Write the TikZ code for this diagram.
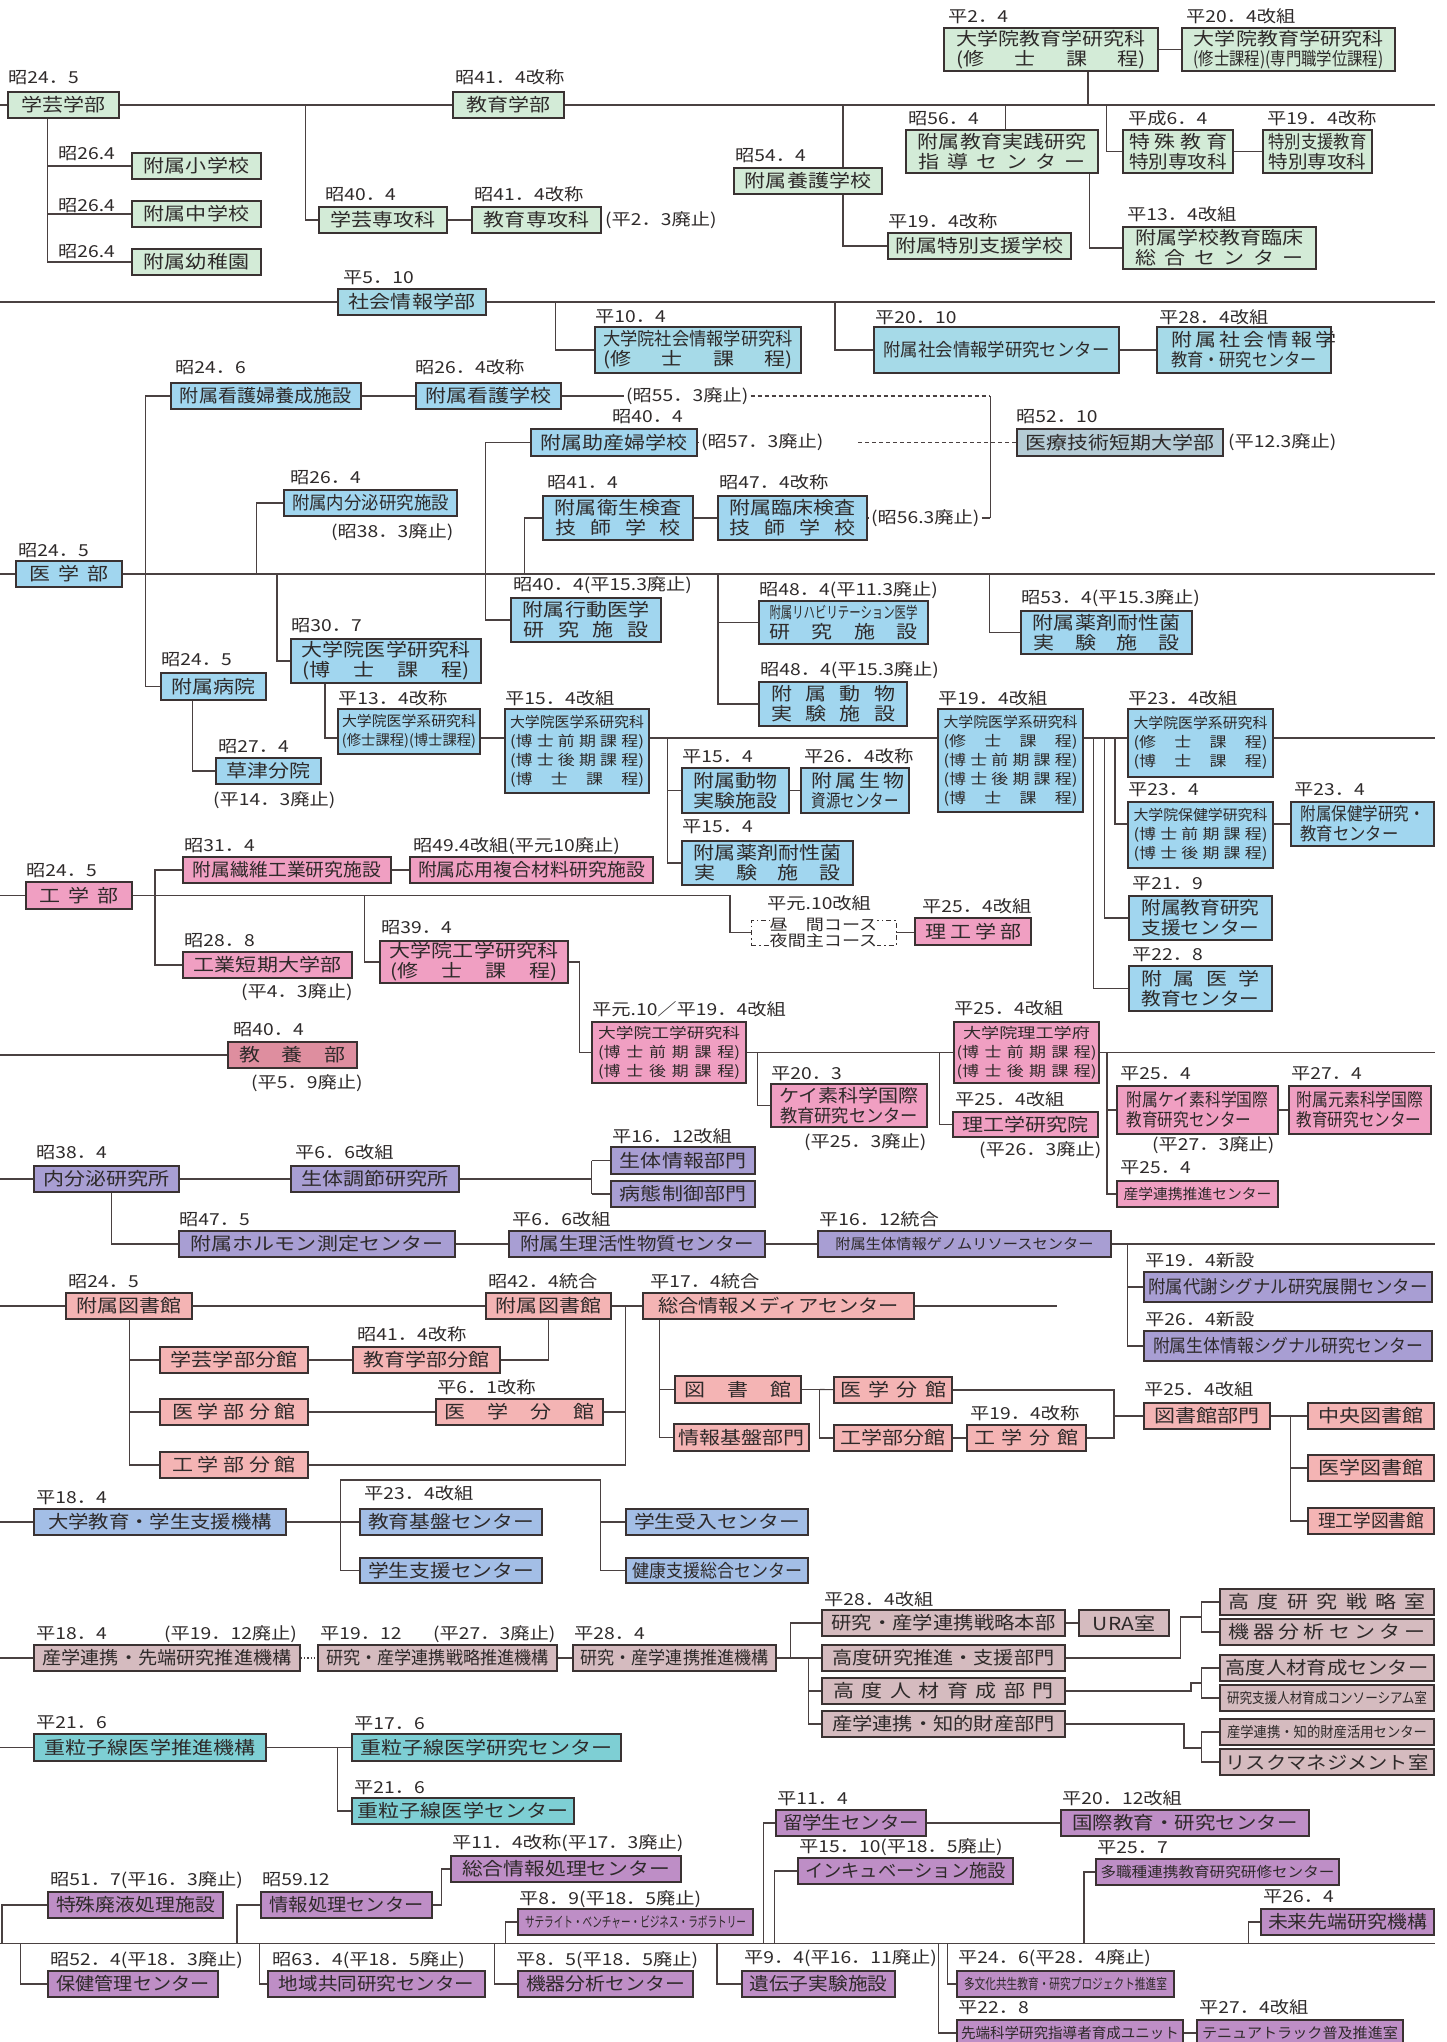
\documentclass[tikz,border=0pt]{standalone}
\usepackage{fontspec}
\usepackage{graphicx}
\setmainfont{Noto Sans CJK JP}[FakeStretch=1.167]
\usetikzlibrary{fit,backgrounds}

\definecolor{lc}{HTML}{4A4141}
\definecolor{bc}{HTML}{3A3232}
\definecolor{tc}{HTML}{2E2A2A}
\definecolor{cGr}{HTML}{D3EBD7}
\definecolor{cSo}{HTML}{A6DAE8}
\definecolor{cMe}{HTML}{A1D6EF}
\definecolor{cIr}{HTML}{B5CCD6}
\definecolor{cEn}{HTML}{F09FC2}
\definecolor{cKy}{HTML}{DE8E9F}
\definecolor{cVi}{HTML}{A89ED3}
\definecolor{cLi}{HTML}{F4B4B4}
\definecolor{cSt}{HTML}{A3BEE6}
\definecolor{cIn}{HTML}{D5BBBF}
\definecolor{cTe}{HTML}{7ECFD4}
\definecolor{cPu}{HTML}{BE8EC6}

% spread a line to a given width / squeeze a line to a given width
\newcommand\Sx[2]{\makebox[#1pt][s]{#2}}
\newcommand\Fx[2]{\resizebox{#1pt}{\height}{#2}}
\newcommand\Fs[2]{\resizebox{#1pt}{\height}{\fontsize{16}{16}\selectfont #2}}
% stacked lines, centred or flush left
\newcommand\ML[1]{{\let\\\cr\vbox{\lineskiplimit=-\maxdimen\halign{\hfil##\hfil\cr#1\crcr}}}}
\newcommand\MLl[1]{{\let\\\cr\vbox{\lineskiplimit=-\maxdimen\halign{##\hfil\cr#1\crcr}}}}
% box: name, styles, x1, y1, x2, y2, text (frame fitted to the corners, label centred in it)
\newcommand\Bx[7]{\node[bx,#2,fit={(#3,#4)(#5,#6)}] (#1) {};
  \node[bxt,#2] (#1-t) at (#1.center) {#7};}
% date label: name, x, baseline y, text
\newcommand\Dt[4]{\node[datelbl] (#1) at (#2,#3) {#4};}

\tikzset{
  bx/.style={draw=bc,line width=1.1pt,inner sep=0pt},
  bxt/.style={inner sep=0pt,text=tc,anchor=center,font=\fontsize{18}{20}\selectfont},
  smallf/.style={font=\fontsize{14.5}{19}\selectfont},
  datelbl/.style={anchor=base west,inner sep=0pt,text=tc,font=\fontsize{16.5}{18}\selectfont},
  inltxt/.style={anchor=west,inner sep=2pt,text=tc,font=\fontsize{16.5}{18}\selectfont},
  conn/.style={draw=lc,line width=1.1pt},
  dconn/.style={conn,dash pattern=on 4pt off 3pt},
  fGr/.style={fill=cGr}, fSo/.style={fill=cSo}, fMe/.style={fill=cMe},
  fIr/.style={fill=cIr}, fEn/.style={fill=cEn}, fKy/.style={fill=cKy},
  fVi/.style={fill=cVi}, fLi/.style={fill=cLi}, fSt/.style={fill=cSt},
  fIn/.style={fill=cIn}, fTe/.style={fill=cTe}, fPu/.style={fill=cPu}
}

\begin{document}
\begin{tikzpicture}[x=1pt,y=-1pt]
\useasboundingbox (0,0) rectangle (1446,2042);

% ================= education =================
\Bx{gakugei}{fGr}{8}{92}{119}{118}{学芸学部}
\Bx{kyoiku}{fGr}{453}{92}{564}{118}{教育学部}
\Bx{fshogaku}{fGr}{132}{153}{261}{179}{附属小学校}
\Bx{fchugaku}{fGr}{132}{201}{261}{227}{附属中学校}
\Bx{fyochien}{fGr}{132}{249}{261}{275}{附属幼稚園}
\Bx{gsenkou}{fGr}{319}{207}{447}{233}{学芸専攻科}
\Bx{ksenkou}{fGr}{472}{207}{601}{233}{教育専攻科}
\Bx{gradedu}{fGr}{944}{28}{1158}{71}{\ML{大学院教育学研究科\\\Sx{190}{(修 士 課 程)}}}
\Bx{gradedu2}{fGr}{1182}{28}{1395}{71}{\ML{大学院教育学研究科\\\Fx{190}{(修士課程)(専門職学位課程)}}}
\Bx{fyogo}{fGr}{734}{168}{882}{194}{附属養護学校}
\Bx{ftokushi}{fGr}{888}{233}{1071}{259}{附属特別支援学校}
\Bx{fjissen}{fGr}{906}{130}{1098}{173}{\ML{附属教育実践研究\\\Sx{168}{指 導 セ ン タ ー}}}
\Bx{frinsho}{fGr}{1123}{227}{1316}{269}{\ML{附属学校教育臨床\\\Sx{168}{総 合 セ ン タ ー}}}
\Bx{tokushu}{fGr}{1123}{130}{1233}{173}{\ML{\Sx{98}{特 殊 教 育}\\\Fx{98}{特別専攻科}}}
\Bx{tokubetsu}{fGr}{1263}{130}{1372}{173}{\ML{\Fx{98}{特別支援教育}\\\Fx{98}{特別専攻科}}}

\Dt{t1}{8}{83}{昭24．5}
\Dt{t2}{455}{83}{昭41．4改称}
\Dt{t3}{58}{159}{昭26.4}
\Dt{t4}{58}{211}{昭26.4}
\Dt{t5}{58}{257}{昭26.4}
\Dt{t6}{325}{200}{昭40．4}
\Dt{t7}{474}{200}{昭41．4改称}
\node[inltxt] (t8) at (603,220) {(平2．3廃止)};
\Dt{t9}{948}{23}{平2．4}
\Dt{t10}{1186}{23}{平20．4改組}
\Dt{t11}{735}{161}{昭54．4}
\Dt{t12}{888}{227}{平19．4改称}
\Dt{t13}{908}{124}{昭56．4}
\Dt{t14}{1127}{220}{平13．4改組}
\Dt{t15}{1128}{124}{平成6．4}
\Dt{t16}{1267}{124}{平19．4改称}

% ================= social information =================
\Bx{shakai}{fSo}{338}{289}{486}{315}{社会情報学部}
\Bx{gradshakai}{fSo}{595}{327}{801}{373}{\ML{\Fx{190}{大学院社会情報学研究科}\\\Sx{190}{(修 士 課 程)}}}
\Bx{fshakaiken}{fSo}{874}{327}{1119}{373}{\Fx{226}{附属社会情報学研究センター}}
\Bx{fshakaikyo}{fSo}{1157}{327}{1331}{373}{\ML{\Sx{146}{附 属 社 会 情 報 学}\\\Fx{146}{教育・研究センター}}}
\Dt{t17}{343}{283}{平5．10}
\Dt{t18}{595}{322}{平10．4}
\Dt{t19}{875}{323}{平20．10}
\Dt{t20}{1159}{323}{平28．4改組}

% ================= medicine =================
\Bx{igaku}{fMe}{16}{561}{122}{587}{\Sx{79}{医 学 部}}
\Bx{fkango1}{fMe}{171}{383}{361}{409}{\Fx{172}{附属看護婦養成施設}}
\Bx{fkango2}{fMe}{416}{383}{561}{409}{附属看護学校}
\Bx{fjosan}{fMe}{531}{429}{697}{456}{附属助産婦学校}
\Bx{iryo}{fIr}{1017}{429}{1223}{456}{医療技術短期大学部}
\Bx{fnaibunpi}{fMe}{284}{490}{457}{516}{\Fx{157}{附属内分泌研究施設}}
\Bx{feisei}{fMe}{543}{496}{693}{540}{\ML{附属衛生検査\\\Sx{126}{技 師 学 校}}}
\Bx{frinsho2}{fMe}{718}{496}{867}{540}{\ML{附属臨床検査\\\Sx{126}{技 師 学 校}}}
\Bx{gradmed}{fMe}{291}{639}{481}{683}{\ML{大学院医学研究科\\\Sx{168}{(博 士 課 程)}}}
\Bx{fkodo}{fMe}{511}{598}{661}{642}{\ML{附属行動医学\\\Sx{126}{研 究 施 設}}}
\Bx{freha}{fMe}{759}{601}{928}{644}{\ML{\Fs{148}{附属リハビリテーション医学}\\\Sx{148}{研 究 施 設}}}
\Bx{fyakuzai1}{fMe}{1021}{611}{1192}{654}{\ML{附属薬剤耐性菌\\\Sx{147}{実 験 施 設}}}
\Bx{fdobutsu1}{fMe}{759}{682}{907}{726}{\ML{\Sx{124}{附 属 動 物}\\\Sx{124}{実 験 施 設}}}
\Bx{fbyoin}{fMe}{161}{673}{266}{700}{附属病院}
\Bx{kusatsu}{fMe}{216}{758}{321}{784}{草津分院}
\Bx{gradmed2}{fMe,smallf}{338}{709}{480}{754}{\ML{\Fx{134}{大学院医学系研究科}\\\Fx{134}{(修士課程)(博士課程)}}}
\Bx{gradmed3}{fMe,smallf}{505}{709}{649}{793}{\ML{\Fx{134}{大学院医学系研究科}\\\Sx{134}{(博 士 前 期 課 程)}\\\Sx{134}{(博 士 後 期 課 程)}\\\Sx{134}{(博 士 課 程)}}}
\Bx{gradmed4}{fMe,smallf}{938}{709}{1083}{812}{\ML{\Fx{134}{大学院医学系研究科}\\\Sx{134}{(修 士 課 程)}\\\Sx{134}{(博 士 前 期 課 程)}\\\Sx{134}{(博 士 後 期 課 程)}\\\Sx{134}{(博 士 課 程)}}}
\Bx{gradmed5}{fMe,smallf}{1128}{709}{1273}{777}{\ML{\Fx{134}{大学院医学系研究科}\\\Sx{134}{(修 士 課 程)}\\\Sx{134}{(博 士 課 程)}}}
\Bx{gradhoken}{fMe,smallf}{1128}{802}{1273}{868}{\ML{\Fx{134}{大学院保健学研究科}\\\Sx{134}{(博 士 前 期 課 程)}\\\Sx{134}{(博 士 後 期 課 程)}}}
\Bx{fhoken}{fMe}{1291}{802}{1434}{846}{\MLl{\Fx{124}{附属保健学研究・}\\\Fx{98}{教育センター}}}
\Bx{fkyoikushien}{fMe}{1129}{896}{1272}{940}{\ML{\Fx{118}{附属教育研究}\\\Fx{118}{支援センター}}}
\Bx{figakukyo}{fMe}{1129}{966}{1272}{1011}{\ML{\Sx{118}{附 属 医 学}\\\Fx{118}{教育センター}}}
\Bx{fdobutsu2}{fMe}{682}{768}{789}{813}{\ML{附属動物\\実験施設}}
\Bx{fseibutsu}{fMe}{801}{768}{909}{813}{\ML{\Sx{87}{附 属 生 物}\\\Fx{87}{資源センター}}}
\Bx{fyakuzai2}{fMe}{682}{841}{853}{885}{\ML{附属薬剤耐性菌\\\Sx{147}{実 験 施 設}}}

\Dt{t21}{175}{373}{昭24．6}
\Dt{t22}{415}{373}{昭26．4改称}
\node[inltxt] (d55) at (624,396) {(昭55．3廃止)};
\Dt{t23}{612}{422}{昭40．4}
\node[inltxt] (d57) at (699,442.5) {(昭57．3廃止)};
\Dt{t24}{1016}{422}{昭52．10}
\node[inltxt] (t25) at (1226,442.5) {(平12.3廃止)};
\Dt{t26}{290}{483}{昭26．4}
\Dt{t27}{331}{537}{(昭38．3廃止)}
\Dt{t28}{547}{488}{昭41．4}
\Dt{t29}{719}{488}{昭47．4改称}
\node[inltxt] (d56) at (869,518) {(昭56.3廃止)};
\Dt{t30}{18}{556}{昭24．5}
\Dt{t31}{291}{631}{昭30．7}
\Dt{t32}{513}{590}{昭40．4(平15.3廃止)}
\Dt{t33}{759}{595}{昭48．4(平11.3廃止)}
\Dt{t34}{1021}{603}{昭53．4(平15.3廃止)}
\Dt{t35}{760}{675}{昭48．4(平15.3廃止)}
\Dt{t36}{161}{665}{昭24．5}
\Dt{t37}{218}{752}{昭27．4}
\Dt{t38}{213}{805}{(平14．3廃止)}
\Dt{t39}{338}{704}{平13．4改称}
\Dt{t40}{505}{704}{平15．4改組}
\Dt{t41}{938}{704}{平19．4改組}
\Dt{t42}{1128}{704}{平23．4改組}
\Dt{t43}{1128}{795}{平23．4}
\Dt{t44}{1294}{795}{平23．4}
\Dt{t45}{1132}{889}{平21．9}
\Dt{t46}{1132}{960}{平22．8}
\Dt{t47}{804}{762}{平26．4改称}
\Dt{t48}{682}{762}{平15．4}
\Dt{t49}{682}{832}{平15．4}

% ================= engineering =================
\Bx{kogaku}{fEn}{26}{882}{132}{909}{\Sx{79}{工 学 部}}
\Bx{fsenni}{fEn}{183}{857}{391}{883}{\Fx{188}{附属繊維工業研究施設}}
\Bx{foyo}{fEn}{410}{857}{653}{883}{\Fx{227}{附属応用複合材料研究施設}}
\Bx{kotan}{fEn}{183}{952}{352}{978}{工業短期大学部}
\Bx{gradeng}{fEn}{380}{941}{568}{983}{\ML{大学院工学研究科\\\Sx{168}{(修 士 課 程)}}}
\Bx{gradeng2}{fEn,smallf}{592}{1022}{746}{1083}{\ML{\Fx{142}{大学院工学研究科}\\\Sx{142}{(博 士 前 期 課 程)}\\\Sx{142}{(博 士 後 期 課 程)}}}
\node[draw=bc,line width=0.9pt,dash pattern=on 5pt off 3pt on 1.5pt off 3pt,inner sep=0pt,
  fit={(751,920)(896,945)}] (course) {};
\node[fill=white,inner sep=0pt,text=tc,font=\fontsize{15.5}{16}\selectfont]
  (coursetxt) at (course.center) {\ML{昼　間コース\\夜間主コース}};
\Bx{riko}{fEn}{915}{918}{1031}{945}{\Sx{96}{理 工 学 部}}
\Bx{kyoyo}{fKy}{228}{1042}{357}{1068}{\Sx{106}{教 養 部}}
\Bx{gradriko}{fEn,smallf}{954}{1022}{1099}{1083}{\ML{\Fx{127}{大学院理工学府}\\\Sx{140}{(博 士 前 期 課 程)}\\\Sx{140}{(博 士 後 期 課 程)}}}
\Bx{keiso}{fEn}{771}{1084}{927}{1127}{\ML{\Fx{140}{ケイ素科学国際}\\\Fx{138}{教育研究センター}}}
\Bx{rikoken}{fEn}{953}{1112}{1098}{1137}{理工学研究院}
\Bx{fkeiso}{fEn}{1117}{1086}{1278}{1134}{\MLl{\Fx{142}{附属ケイ素科学国際}\\\Fx{125}{教育研究センター}}}
\Bx{fgenso}{fEn}{1289}{1086}{1431}{1134}{\MLl{\Fx{127}{附属元素科学国際}\\\Fx{125}{教育研究センター}}}
\Bx{sangakusuishin}{fEn,smallf}{1117}{1181}{1278}{1207}{\Fx{148}{産学連携推進センター}}

\Dt{t50}{26}{876}{昭24．5}
\Dt{t51}{184}{851}{昭31．4}
\Dt{t52}{413}{851}{昭49.4改組(平元10廃止)}
\Dt{t53}{184}{946}{昭28．8}
\Dt{t54}{241}{997}{(平4．3廃止)}
\Dt{t55}{381}{933}{昭39．4}
\Dt{t56}{592}{1015}{平元.10／平19．4改組}
\Dt{t57}{767}{909}{平元.10改組}
\Dt{t58}{922}{912}{平25．4改組}
\Dt{t59}{954}{1014}{平25．4改組}
\Dt{t60}{233}{1035}{昭40．4}
\Dt{t61}{251}{1088}{(平5．9廃止)}
\Dt{t62}{771}{1079}{平20．3}
\Dt{t63}{804}{1147}{(平25．3廃止)}
\Dt{t64}{955}{1105}{平25．4改組}
\Dt{t65}{979}{1155}{(平26．3廃止)}
\Dt{t66}{1120}{1079}{平25．4}
\Dt{t67}{1152}{1150}{(平27．3廃止)}
\Dt{t68}{1291}{1079}{平27．4}
\Dt{t69}{1120}{1173}{平25．4}

% ================= endocrine / bioregulation =================
\Bx{naibunpi}{fVi}{34}{1166}{179}{1192}{内分泌研究所}
\Bx{seitai}{fVi}{291}{1166}{459}{1192}{生体調節研究所}
\Bx{seitaijoho}{fVi}{611}{1147}{755}{1174}{生体情報部門}
\Bx{byotai}{fVi}{611}{1181}{755}{1207}{病態制御部門}
\Bx{fhorumon}{fVi}{179}{1231}{455}{1257}{附属ホルモン測定センター}
\Bx{fseiri}{fVi}{509}{1231}{765}{1257}{\Fx{234}{附属生理活性物質センター}}
\Bx{fgenome}{fVi,smallf}{818}{1231}{1111}{1257}{\Fx{258}{附属生体情報ゲノムリソースセンター}}
\Bx{ftaisha}{fVi}{1144}{1272}{1432}{1302}{\Fx{279}{附属代謝シグナル研究展開センター}}
\Bx{fseitaisig}{fVi}{1144}{1331}{1432}{1361}{\Fx{270}{附属生体情報シグナル研究センター}}
\Dt{t70}{36}{1158}{昭38．4}
\Dt{t71}{295}{1158}{平6．6改組}
\Dt{t72}{612}{1142}{平16．12改組}
\Dt{t73}{179}{1225}{昭47．5}
\Dt{t74}{512}{1225}{平6．6改組}
\Dt{t75}{819}{1225}{平16．12統合}
\Dt{t76}{1145}{1266}{平19．4新設}
\Dt{t77}{1145}{1325}{平26．4新設}

% ================= library =================
\Bx{lib1}{fLi}{66}{1293}{192}{1319}{附属図書館}
\Bx{lib2}{fLi}{486}{1293}{611}{1319}{附属図書館}
\Bx{media}{fLi}{643}{1293}{914}{1319}{\Fx{241}{総合情報メディアセンター}}
\Bx{gakubun}{fLi}{160}{1347}{308}{1373}{学芸学部分館}
\Bx{kyobun}{fLi}{353}{1347}{500}{1373}{教育学部分館}
\Bx{ibun}{fLi}{160}{1399}{308}{1425}{\Sx{124}{医 学 部 分 館}}
\Bx{ibunkan}{fLi}{436}{1399}{603}{1425}{\Sx{150}{医 学 分 館}}
\Bx{kobun}{fLi}{160}{1452}{308}{1478}{\Sx{124}{工 学 部 分 館}}
\Bx{tosho}{fLi}{675}{1376}{801}{1403}{\Sx{107}{図 書 館}}
\Bx{jouhoukiban}{fLi}{674}{1424}{809}{1451}{情報基盤部門}
\Bx{ibun2}{fLi}{834}{1377}{952}{1403}{\Sx{106}{医 学 分 館}}
\Bx{kobun2}{fLi}{834}{1425}{952}{1451}{工学部分館}
\Bx{kobunkan}{fLi}{967}{1425}{1086}{1451}{\Sx{105}{工 学 分 館}}
\Bx{toshobu}{fLi}{1144}{1403}{1270}{1429}{図書館部門}
\Bx{chuo}{fLi}{1308}{1403}{1434}{1429}{中央図書館}
\Bx{igakulib}{fLi}{1308}{1455}{1434}{1481}{医学図書館}
\Bx{rikolib}{fLi}{1308}{1508}{1434}{1534}{\Fx{106}{理工学図書館}}
\Dt{t78}{68}{1287}{昭24．5}
\Dt{t79}{488}{1287}{昭42．4統合}
\Dt{t80}{650}{1287}{平17．4統合}
\Dt{t81}{357}{1340}{昭41．4改称}
\Dt{t82}{437}{1393}{平6．1改称}
\Dt{t83}{970}{1419}{平19．4改称}
\Dt{t84}{1144}{1395}{平25．4改組}

% ================= education and student support =================
\Bx{daigakukyo}{fSt}{34}{1509}{286}{1535}{\Fx{224}{大学教育・学生支援機構}}
\Bx{kyoikukiban}{fSt}{360}{1509}{542}{1535}{\Fx{166}{教育基盤センター}}
\Bx{gakuseishien}{fSt}{360}{1558}{542}{1583}{\Fx{166}{学生支援センター}}
\Bx{ukeire}{fSt}{626}{1509}{808}{1535}{\Fx{166}{学生受入センター}}
\Bx{kenko}{fSt}{626}{1558}{808}{1583}{\Fx{170}{健康支援総合センター}}
\Dt{t85}{36}{1503}{平18．4}
\Dt{t86}{364}{1499}{平23．4改組}

% ================= research and industry collaboration =================
\Bx{sangaku1}{fIn}{34}{1645}{300}{1671}{\Fx{249}{産学連携・先端研究推進機構}}
\Bx{sangaku2}{fIn}{318}{1645}{557}{1671}{\Fx{223}{研究・産学連携戦略推進機構}}
\Bx{sangaku3}{fIn}{573}{1645}{776}{1671}{\Fx{188}{研究・産学連携推進機構}}
\Bx{senryaku}{fIn}{822}{1610}{1065}{1636}{\Fx{224}{研究・産学連携戦略本部}}
\Bx{ura}{fIn}{1079}{1610}{1169}{1636}{URA室}
\Bx{kodokenkyu}{fIn}{822}{1645}{1065}{1671}{\Fx{222}{高度研究推進・支援部門}}
\Bx{kodojinzai}{fIn}{822}{1678}{1065}{1704}{\Sx{221}{高 度 人 材 育 成 部 門}}
\Bx{chizai}{fIn}{822}{1711}{1065}{1737}{\Fx{223}{産学連携・知的財産部門}}
\Bx{senryakushitsu}{fIn}{1220}{1589}{1434}{1615}{\Sx{198}{高 度 研 究 戦 略 室}}
\Bx{kiki}{fIn}{1220}{1619}{1434}{1645}{\Sx{198}{機 器 分 析 セ ン タ ー}}
\Bx{jinzaicenter}{fIn}{1220}{1655}{1434}{1681}{\Fx{203}{高度人材育成センター}}
\Bx{consortium}{fIn,smallf}{1220}{1685}{1434}{1711}{\Fx{200}{研究支援人材育成コンソーシアム室}}
\Bx{katsuyo}{fIn,smallf}{1220}{1719}{1434}{1745}{\Fx{200}{産学連携・知的財産活用センター}}
\Bx{risk}{fIn}{1220}{1749}{1434}{1775}{\Fx{203}{リスクマネジメント室}}
\Dt{t87}{36}{1639}{平18．4}
\Dt{t88}{164}{1639}{(平19．12廃止)}
\Dt{t89}{320}{1639}{平19．12}
\Dt{t90}{433}{1639}{(平27．3廃止)}
\Dt{t91}{574}{1639}{平28．4}
\Dt{t92}{824}{1605}{平28．4改組}

% ================= heavy ion medicine =================
\Bx{juryushi}{fTe}{34}{1734}{266}{1761}{重粒子線医学推進機構}
\Bx{juryushiken}{fTe}{352}{1734}{621}{1761}{重粒子線医学研究センター}
\Bx{juryushicenter}{fTe}{352}{1798}{574}{1824}{重粒子線医学センター}
\Dt{t93}{36}{1728}{平21．6}
\Dt{t94}{354}{1729}{平17．6}
\Dt{t95}{354}{1793}{平21．6}

% ================= joint facilities =================
\Bx{haieki}{fPu}{48}{1892}{223}{1918}{\Fx{159}{特殊廃液処理施設}}
\Bx{hoken}{fPu}{48}{1971}{218}{1997}{\Fx{153}{保健管理センター}}
\Bx{johoshori}{fPu}{261}{1892}{432}{1918}{\Fx{154}{情報処理センター}}
\Bx{sogojoho}{fPu}{451}{1856}{681}{1882}{\Fx{208}{総合情報処理センター}}
\Bx{chiiki}{fPu}{268}{1971}{485}{1997}{\Fx{195}{地域共同研究センター}}
\Bx{satellite}{fPu,smallf}{518}{1909}{753}{1935}{\Fx{221}{サテライト・ベンチャー・ビジネス・ラボラトリー}}
\Bx{kiki2}{fPu}{518}{1971}{693}{1997}{\Fx{159}{機器分析センター}}
\Bx{idenshi}{fPu}{742}{1971}{895}{1997}{\Fx{138}{遺伝子実験施設}}
\Bx{ryugaku}{fPu}{776}{1810}{926}{1836}{\Fx{136}{留学生センター}}
\Bx{kokusai}{fPu}{1061}{1810}{1309}{1836}{\Fx{225}{国際教育・研究センター}}
\Bx{incub}{fPu}{798}{1858}{1013}{1884}{\Fx{201}{インキュベーション施設}}
\Bx{tashoku}{fPu,smallf}{1096}{1859}{1339}{1885}{\Fx{234}{多職種連携教育研究研修センター}}
\Bx{mirai}{fPu}{1261}{1909}{1434}{1935}{\Fx{159}{未来先端研究機構}}
\Bx{tabunka}{fPu,smallf}{957}{1971}{1174}{1997}{\Fx{203}{多文化共生教育・研究プロジェクト推進室}}
\Bx{sentan}{fPu,smallf}{957}{2020}{1183}{2046}{\Fx{218}{先端科学研究指導者育成ユニット}}
\Bx{tenure}{fPu,smallf}{1197}{2020}{1403}{2046}{\Fx{196}{テニュアトラック普及推進室}}
\Dt{t96}{50}{1885}{昭51．7(平16．3廃止)}
\Dt{t97}{262}{1885}{昭59.12}
\Dt{t98}{452}{1848}{平11．4改称(平17．3廃止)}
\Dt{t99}{519}{1904}{平8．9(平18．5廃止)}
\Dt{t100}{50}{1965}{昭52．4(平18．3廃止)}
\Dt{t101}{272}{1965}{昭63．4(平18．5廃止)}
\Dt{t102}{516}{1965}{平8．5(平18．5廃止)}
\Dt{t103}{744}{1963}{平9．4(平16．11廃止)}
\Dt{t104}{777}{1804}{平11．4}
\Dt{t105}{1062}{1804}{平20．12改組}
\Dt{t106}{799}{1852}{平15．10(平18．5廃止)}
\Dt{t107}{1097}{1853}{平25．7}
\Dt{t108}{1263}{1902}{平26．4}
\Dt{t109}{958}{1963}{平24．6(平28．4廃止)}
\Dt{t110}{958}{2013}{平22．8}
\Dt{t111}{1199}{2013}{平27．4改組}

% ================= junction points =================
\coordinate (L1) at (0,105);   \coordinate (R1) at (1435,105);
\coordinate (a1) at (47.5,118); \coordinate (a2) at (305.7,105);
\coordinate (a3) at (1088,71);  \coordinate (a4) at (843,105);
\coordinate (a5) at (1005.7,105); \coordinate (a6) at (1089.6,173);
\coordinate (a7) at (1106.6,105);
\coordinate (L2) at (0,302);   \coordinate (R2) at (1435,302);
\coordinate (b1) at (555.6,302); \coordinate (b2) at (835,302);
\coordinate (L3) at (0,574);   \coordinate (R3) at (1435,574);
\coordinate (m1) at (145.7,396);
\coordinate (m2) at (990.4,396); \coordinate (m3) at (990.4,518);
\coordinate (m4) at (485.6,442.5);
\coordinate (m5) at (256.8,503); \coordinate (m6) at (524.3,518);
\coordinate (m7) at (277,574); \coordinate (m8) at (718,574); \coordinate (m9) at (989.5,574);
\coordinate (m10) at (192.7,700); \coordinate (m11) at (325,683);
\coordinate (ym) at (0,738);   \coordinate (R4) at (1435,738);
\coordinate (m12) at (667.7,738);
\coordinate (m13) at (1093.3,738); \coordinate (m14) at (1104.3,738); \coordinate (m15) at (1115,738);
\coordinate (m16) at (858,442.5);
\coordinate (L5) at (0,895.5); \coordinate (e1) at (730,895.5);
\coordinate (e2) at (155,870); \coordinate (e3) at (155,965);
\coordinate (e4) at (364.3,895.5); \coordinate (e5) at (579.6,962);
\coordinate (R6) at (1435,1052.5);
\coordinate (e6) at (757.6,1052.5); \coordinate (e7) at (939.7,1052.5); \coordinate (e8) at (1107,1052.5);
\coordinate (L7) at (0,1055);
\coordinate (L8) at (0,1179); \coordinate (v1) at (591.6,1179);
\coordinate (v2) at (111.6,1192); \coordinate (R9) at (1435,1244);
\coordinate (v3) at (1127.9,1244);
\coordinate (L10) at (0,1306); \coordinate (l1) at (1057,1306);
\coordinate (l2) at (129.6,1319); \coordinate (l3) at (548.7,1319);
\coordinate (l4) at (625.7,1306); \coordinate (l5) at (659.4,1319);
\coordinate (l6) at (819.8,1389.5); \coordinate (l7) at (1114,1390);
\coordinate (l8) at (1290.2,1416);
\coordinate (L11) at (0,1522); \coordinate (s1) at (340.3,1522);
\coordinate (s2) at (340.3,1480); \coordinate (s3) at (600.4,1480);
\coordinate (L12) at (0,1658);
\coordinate (i1) at (790.8,1658); \coordinate (i2) at (808.3,1658);
\coordinate (i3) at (1180.4,1658); \coordinate (i4) at (1180.4,1617); \coordinate (i5) at (1201.2,1617);
\coordinate (i6) at (1191,1691); \coordinate (i7) at (1191,1683); \coordinate (i8) at (1201.2,1683);
\coordinate (i9) at (1184,1724); \coordinate (i10) at (1184,1748); \coordinate (i11) at (1201.2,1748);
\coordinate (L13) at (0,1747.5); \coordinate (c1) at (337.5,1747.5);
\coordinate (L14) at (0,1943.3); \coordinate (R14) at (1435,1943.3);
\coordinate (u1) at (2,1943.3);    \coordinate (u2) at (20.3,1943.3);
\coordinate (u3) at (237,1943.3);  \coordinate (u4) at (441.7,1905);
\coordinate (u5) at (259.1,1943.3); \coordinate (u6) at (505.8,1943.3);
\coordinate (u7) at (494.3,1943.3); \coordinate (u8) at (717,1943.3);
\coordinate (u9) at (763.6,1943.3); \coordinate (u10) at (774.6,1943.3);
\coordinate (u11) at (1084,1943.3); \coordinate (u12) at (1248.7,1943.3);
\coordinate (u13) at (947.6,1943.3); \coordinate (u14) at (938.3,1943.3);

% ================= connectors =================
\begin{pgfonlayer}{background}
\fill[white] (0,0) rectangle (1446,2042);
% education
\draw[conn] (L1) -- (gakugei) -- (kyoiku) -- (R1);
\draw[conn] (a1) |- (fshogaku) (a1) |- (fchugaku) (a1) |- (fyochien);
\draw[conn] (a2) |- (gsenkou); \draw[conn] (gsenkou) -- (ksenkou);
\draw[conn] (gradedu) -- (gradedu2);
\draw[conn] (a3) -- (a3 |- L1);
\draw[conn] (a4) |- (ftokushi);
\draw[conn] (a5) -- (a5 |- fjissen.north);
\draw[conn] (a6) |- (frinsho);
\draw[conn] (a7) |- (tokushu); \draw[conn] (tokushu) -- (tokubetsu);
% social information
\draw[conn] (L2) -- (shakai) -- (R2);
\draw[conn] (b1) |- (gradshakai);
\draw[conn] (b2) |- (fshakaiken); \draw[conn] (fshakaiken) -- (fshakaikyo);
% medicine
\draw[conn] (L3) -- (igaku) -- (R3);
\draw[conn] (fkango1) -- (m1) |- (fbyoin);
\draw[conn] (fkango1) -- (fkango2) -- (d55);
\draw[dconn] (d55) -- (m2);
\draw[conn] (m2) -- (m3);
\draw[conn] (feisei) -- (frinsho2) -- (d56) -- (m3);
\draw[conn] (fjosan) -- (d57);
\draw[dconn] (m16) -- (iryo);
\draw[conn] (fjosan) -- (m4) |- (fkodo);
\draw[conn] (fnaibunpi) -- (m5) -- (m5 |- L3);
\draw[conn] (feisei) -- (m6) -- (m6 |- L3);
\draw[conn] (m7) |- (gradmed);
\draw[conn] (m8) |- (freha) (m8) |- (fdobutsu1);
\draw[conn] (m9) |- (fyakuzai1);
\draw[conn] (m10) |- (kusatsu);
\draw[conn] (m11) -- (m11 |- ym) -- (gradmed2.west |- ym);
\draw[conn] (gradmed2.east |- ym) -- (gradmed3.west |- ym);
\draw[conn] (gradmed3.east |- ym) -- (gradmed4.west |- ym);
\draw[conn] (gradmed4.east |- ym) -- (gradmed5.west |- ym);
\draw[conn] (gradmed5.east |- ym) -- (R4);
\draw[conn] (m12) |- (fdobutsu2) (m12) |- (fyakuzai2);
\draw[conn] (fdobutsu2) -- (fseibutsu);
\draw[conn] (m15) |- (gradhoken.west |- fhoken);
\draw[conn] (gradhoken.east |- fhoken) -- (fhoken);
\draw[conn] (m14) |- (fkyoikushien);
\draw[conn] (m13) |- (figakukyo);
% engineering
\draw[conn] (L5) -- (kogaku) -- (e1) |- (course);
\draw[conn] (course) -- (riko.west |- course);
\draw[conn] (fsenni) -- (e2) -- (e3) -- (kotan);
\draw[conn] (fsenni) -- (foyo);
\draw[conn] (e4) |- (gradeng);
\draw[conn] (gradeng) -- (e5) |- (gradeng2);
\draw[conn] (gradeng2) -- (gradriko) -- (R6);
\draw[conn] (e6) |- (keiso);
\draw[conn] (e7) |- (rikoken);
\draw[conn] (e8) |- (fkeiso) (e8) |- (sangakusuishin);
\draw[conn] (fkeiso) -- (fgenso);
\draw[conn] (L7) -- (kyoyo);
% endocrine / bioregulation
\draw[conn] (L8) -- (naibunpi) -- (seitai) -- (v1);
\draw[conn] (v1 |- seitaijoho) -- (v1 |- byotai);
\draw[conn] (v1 |- seitaijoho) -- (seitaijoho);
\draw[conn] (v1 |- byotai) -- (byotai);
\draw[conn] (v2) |- (fhorumon);
\draw[conn] (fhorumon) -- (fseiri) -- (fgenome) -- (R9);
\draw[conn] (v3) |- (ftaisha) (v3) |- (fseitaisig);
% library
\draw[conn] (L10) -- (lib1) -- (lib2) -- (media) -- (l1);
\draw[conn] (l2) |- (gakubun) (l2) |- (ibun) (l2) |- (kobun);
\draw[conn] (gakubun) -- (kyobun);
\draw[conn] (l3) |- (kyobun);
\draw[conn] (l4) |- (kobun);
\draw[conn] (ibun) -- (ibunkan);
\draw[conn] (ibunkan) -- (l4 |- ibunkan);
\draw[conn] (l5) |- (tosho) (l5) |- (jouhoukiban);
\draw[conn] (tosho) -- (l6) |- (kobun2); \draw[conn] (l6) -- (ibun2);
\draw[conn] (kobun2) -- (kobunkan);
\draw[conn] (ibun2) -- (l7) |- (kobunkan);
\draw[conn] (l7 |- toshobu) -- (toshobu);
\draw[conn] (toshobu) -- (l8) |- (rikolib); \draw[conn] (l8) |- (igakulib);
\draw[conn] (l8) -- (chuo);
% education and student support
\draw[conn] (L11) -- (daigakukyo) -- (s1) -- (kyoikukiban);
\draw[conn] (s2) |- (gakuseishien);
\draw[conn] (s2) -- (s3) |- (kenko);
\draw[conn] (s3 |- ukeire) -- (ukeire);
% research and industry collaboration
\draw[conn] (L12) -- (sangaku1);
\draw[conn,dash pattern=on 1.2pt off 2.2pt] (sangaku1) -- (sangaku2);
\draw[conn] (sangaku2) -- (sangaku3) -- (kodokenkyu);
\draw[conn] (i1) |- (senryaku); \draw[conn] (senryaku) -- (ura);
\draw[conn] (i2) |- (kodojinzai) (i2) |- (chizai);
\draw[conn] (kodokenkyu) -- (i3) -- (i4) -- (i5);
\draw[conn] (senryakushitsu) -| (i5) |- (kiki);
\draw[conn] (kodojinzai) -- (i6) -- (i7) -- (i8);
\draw[conn] (jinzaicenter) -| (i8) |- (consortium);
\draw[conn] (chizai) -- (i9) -- (i10) -- (i11);
\draw[conn] (katsuyo) -| (i11) |- (risk);
% heavy ion medicine
\draw[conn] (L13) -- (juryushi) -- (c1) -- (juryushiken);
\draw[conn] (c1) |- (juryushicenter);
% joint facilities
\draw[conn] (L14) -- (R14);
\draw[conn] (u1) |- (haieki);
\draw[conn] (u2) |- (hoken);
\draw[conn] (u3) |- (johoshori);
\draw[conn] (johoshori) -- (u4) |- (sogojoho);
\draw[conn] (u5) |- (chiiki);
\draw[conn] (u6) |- (satellite);
\draw[conn] (u7) |- (kiki2);
\draw[conn] (u8) |- (idenshi);
\draw[conn] (u9) |- (ryugaku); \draw[conn] (ryugaku) -- (kokusai);
\draw[conn] (u10) |- (incub);
\draw[conn] (u11) |- (tashoku);
\draw[conn] (u12) |- (mirai);
\draw[conn] (u13) |- (tabunka);
\draw[conn] (u14) |- (sentan); \draw[conn] (sentan) -- (tenure);
\end{pgfonlayer}
\end{tikzpicture}
\end{document}
